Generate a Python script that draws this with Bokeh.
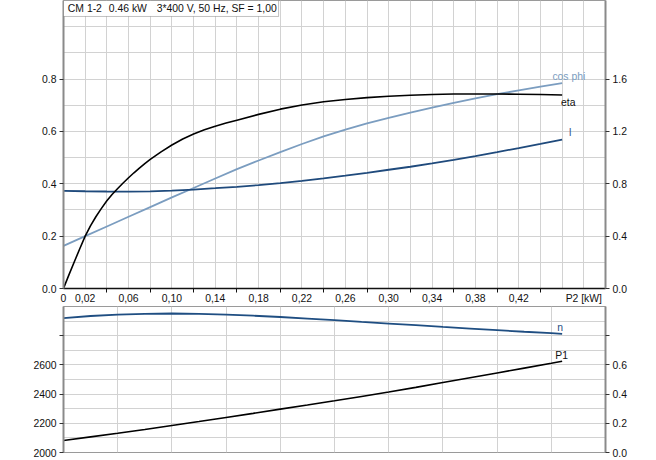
from bokeh.plotting import figure
from bokeh.models import Range1d, LinearAxis, FixedTicker, Label, BoxAnnotation
from bokeh.layouts import column
from bokeh.embed import file_html
from bokeh.resources import INLINE

# ---------------- data ----------------
p2 = [0, 0.02, 0.04, 0.06, 0.08, 0.10, 0.12, 0.14, 0.16, 0.18,
      0.20, 0.22, 0.24, 0.26, 0.28, 0.30, 0.32, 0.34, 0.36, 0.38, 0.40, 0.42, 0.44, 0.46]
cosphi = [0.163, 0.200, 0.237, 0.274, 0.311, 0.348, 0.384, 0.420, 0.456, 0.489,
          0.521, 0.552, 0.581, 0.607, 0.631, 0.652, 0.672, 0.691, 0.709, 0.726, 0.742, 0.757, 0.771, 0.784]
current = [0.746, 0.743, 0.741, 0.740, 0.742, 0.747, 0.756, 0.766, 0.777, 0.790,
           0.805, 0.822, 0.841, 0.862, 0.884, 0.907, 0.930, 0.956, 0.983, 1.012, 1.042, 1.073, 1.105, 1.138]

p2_eta = [0, 0.005, 0.01, 0.015, 0.02, 0.025, 0.03, 0.035, 0.04, 0.045, 0.05, 0.055, 0.06,
          0.065, 0.07, 0.075, 0.08, 0.09, 0.10, 0.11, 0.12, 0.13, 0.14, 0.15, 0.16, 0.18,
          0.20, 0.22, 0.24, 0.26, 0.28, 0.30, 0.32, 0.34, 0.36, 0.38, 0.40, 0.42, 0.44, 0.46]
eta = [0.0, 0.052, 0.102, 0.152, 0.200, 0.240, 0.275, 0.306, 0.335, 0.360, 0.382, 0.403, 0.423,
       0.442, 0.460, 0.477, 0.493, 0.522, 0.548, 0.571, 0.590, 0.606, 0.620, 0.632, 0.643, 0.665,
       0.685, 0.701, 0.713, 0.722, 0.729, 0.734, 0.738, 0.741, 0.743, 0.743, 0.743, 0.742, 0.741, 0.739]

p2_low = [0, 0.025, 0.05, 0.075, 0.10, 0.125, 0.15, 0.175, 0.20, 0.225, 0.25, 0.275,
          0.30, 0.325, 0.35, 0.375, 0.40, 0.425, 0.45, 0.46]
speed = [2920, 2935, 2944, 2950, 2952, 2950, 2945, 2937, 2928, 2917, 2906, 2894,
         2883, 2872, 2860, 2849, 2838, 2827, 2817, 2813]
p1 = [0.082, 0.107, 0.132, 0.158, 0.185, 0.212, 0.240, 0.268, 0.297, 0.325, 0.354, 0.384,
      0.414, 0.446, 0.479, 0.512, 0.545, 0.578, 0.611, 0.625]

x_label_ticks = [0, 0.02, 0.06, 0.10, 0.14, 0.18, 0.22, 0.26, 0.30, 0.34, 0.38, 0.42, 0.48]
x_label_texts = ["0", "0,02", "0,06", "0,10", "0,14", "0,18", "0,22", "0,26", "0,30",
                 "0,34", "0,38", "0,42", "P2 [kW]"]
x_minor_ticks = [0.04, 0.08, 0.12, 0.16, 0.20, 0.24, 0.28, 0.32, 0.36, 0.40, 0.44]
x_grid_top = [0.02, 0.04, 0.06, 0.08, 0.10, 0.12, 0.14, 0.16, 0.18, 0.20, 0.22, 0.24,
              0.26, 0.28, 0.30, 0.32, 0.34, 0.36, 0.38, 0.40, 0.42, 0.44, 0.46, 0.48]
x_grid_bottom = [0.05, 0.10, 0.15, 0.20, 0.25, 0.30, 0.35, 0.40, 0.45]

left_top_ticks = [0.0, 0.2, 0.4, 0.6, 0.8]
left_top_texts = ["0.0", "0.2", "0.4", "0.6", "0.8"]
right_top_ticks = [0.0, 0.4, 0.8, 1.2, 1.6]
right_top_texts = ["0.0", "0.4", "0.8", "1.2", "1.6"]
y_grid_top = [0.1, 0.2, 0.3, 0.4, 0.5, 0.6, 0.7, 0.8, 0.9, 1.0]

left_bot_ticks = [2000, 2200, 2400, 2600, 2800]
left_bot_texts = ["2000", "2200", "2400", "2600", ""]
right_bot_ticks = [0.0, 0.2, 0.4, 0.6, 0.8]
right_bot_texts = ["0.0", "0.2", "0.4", "0.6", ""]
y_grid_bottom = [2100, 2200, 2300, 2400, 2500, 2600, 2700, 2800, 2900]

title_parts = ["CM 1-2", "0.46 kW", "3*400 V, 50 Hz, SF = 1,00"]

# ---------------- style ----------------
FONT = "Liberation Sans"
FS = "10.4px"
GRID = "#d2d2d2"
AXIS_GRAY = "#8a8a8a"
C_ETA = "#000000"
C_COS = "#7b9dc0"
C_I = "#1f4a7c"
C_N = "#1f4e82"
C_P1 = "#000000"


def style_axis(ax, ticks, texts, line_color=AXIS_GRAY, line_width=2):
    ax.ticker = FixedTicker(ticks=ticks)
    ax.major_label_overrides = {t: s for t, s in zip(ticks, texts)}
    ax.axis_line_color = line_color
    ax.axis_line_width = line_width
    ax.major_tick_out = 4
    ax.major_tick_in = 0
    ax.major_tick_line_color = "#333333"
    ax.minor_tick_line_color = None
    ax.major_label_text_font = FONT
    ax.major_label_text_font_size = FS
    ax.major_label_text_color = "#111111"
    ax.major_label_standoff = 3


def lab(p, text, x, y, color="#111111", align="center", baseline="middle", **kw):
    p.add_layout(Label(x=x, y=y, text=text, text_font=FONT, text_font_size=FS,
                       text_color=color, text_align=align, text_baseline=baseline, **kw))


# ---------------- top figure ----------------
top = figure(width=656, height=306, x_range=Range1d(0, 0.5), y_range=Range1d(0, 1.1),
             output_backend="svg", toolbar_location=None,
             min_border_left=63, min_border_right=51, min_border_top=0, min_border_bottom=18,
             y_axis_location=None, x_axis_location=None)
top.extra_y_ranges = {"I": Range1d(0, 2.2)}
top.outline_line_color = "#9a9a9a"
top.background_fill_color = "white"
top.border_fill_color = "white"

ax_l = LinearAxis()
style_axis(ax_l, left_top_ticks, left_top_texts)
top.add_layout(ax_l, "left")
ax_r = LinearAxis(y_range_name="I")
style_axis(ax_r, right_top_ticks, right_top_texts)
top.add_layout(ax_r, "right")
ax_b = LinearAxis()
style_axis(ax_b, x_label_ticks, x_label_texts, line_color="#111111", line_width=1.5)
ax_b.ticker = FixedTicker(ticks=x_label_ticks, minor_ticks=x_minor_ticks)
ax_b.major_tick_out = 0
ax_b.minor_tick_out = 4
ax_b.minor_tick_in = 0
ax_b.minor_tick_line_color = "#111111"
ax_b.major_label_standoff = 0
top.add_layout(ax_b, "below")

top.xgrid.ticker = FixedTicker(ticks=x_grid_top)
top.ygrid.ticker = FixedTicker(ticks=y_grid_top)
for g in (top.xgrid, top.ygrid):
    g.grid_line_color = GRID
    g.grid_line_width = 1

top.line(p2, cosphi, line_color=C_COS, line_width=1.8)
top.line(p2, current, line_color=C_I, line_width=1.8, y_range_name="I")
top.line(p2_eta, eta, line_color=C_ETA, line_width=1.6)

lab(top, "cos phi", 0.451, 0.808, color=C_COS, align="left")
lab(top, "eta", 0.459, 0.71, color="#111111", align="left")
lab(top, "I", 0.466, 1.192, color="#3a5c90", align="left", y_range_name="I")

lab(top, "cos phi", -0.0283, 1.079)
lab(top, "eta", -0.0283, 1.033)
lab(top, "I", 0.518, 1.079)
lab(top, "[A]", 0.519, 1.033)

# title box
top.add_layout(BoxAnnotation(left=0, right=0.1984, bottom=1.039, top=1.1,
                             fill_color="white", fill_alpha=1.0,
                             line_color="#333333", line_width=1))
for txt, xx in zip(title_parts, [0.004, 0.0418, 0.086]):
    lab(top, txt, xx, 1.07, align="left")

# ---------------- bottom figure ----------------
bot = figure(width=656, height=154, x_range=Range1d(0, 0.5), y_range=Range1d(2000, 3000),
             output_backend="svg", toolbar_location=None,
             min_border_left=63, min_border_right=51, min_border_top=0, min_border_bottom=8,
             y_axis_location=None, x_axis_location=None)
bot.extra_y_ranges = {"P1": Range1d(0, 1.0)}
bot.outline_line_color = "#9a9a9a"
bot.border_fill_color = "white"

bl = LinearAxis()
style_axis(bl, left_bot_ticks, left_bot_texts)
bot.add_layout(bl, "left")
br = LinearAxis(y_range_name="P1")
style_axis(br, right_bot_ticks, right_bot_texts)
bot.add_layout(br, "right")

bot.xgrid.ticker = FixedTicker(ticks=x_grid_bottom)
bot.ygrid.ticker = FixedTicker(ticks=y_grid_bottom)
for g in (bot.xgrid, bot.ygrid):
    g.grid_line_color = GRID
    g.grid_line_width = 1

bot.line(p2_low, speed, line_color=C_N, line_width=1.8)
bot.line(p2_low, p1, line_color=C_P1, line_width=1.6, y_range_name="P1")

lab(bot, "n", 0.4556, 2854, color=C_N, align="left")
lab(bot, "P1", 0.4537, 2661, color="#111111", align="left")
lab(bot, "n", -0.0292, 2952)
lab(bot, "[rpm]", -0.0292, 2878)
lab(bot, "P1", 0.5247, 2952)
lab(bot, "[kW]", 0.5247, 2878)

layout = column(top, bot, spacing=0)

with open("out.html", "w") as f:
    f.write(file_html(layout, INLINE))
